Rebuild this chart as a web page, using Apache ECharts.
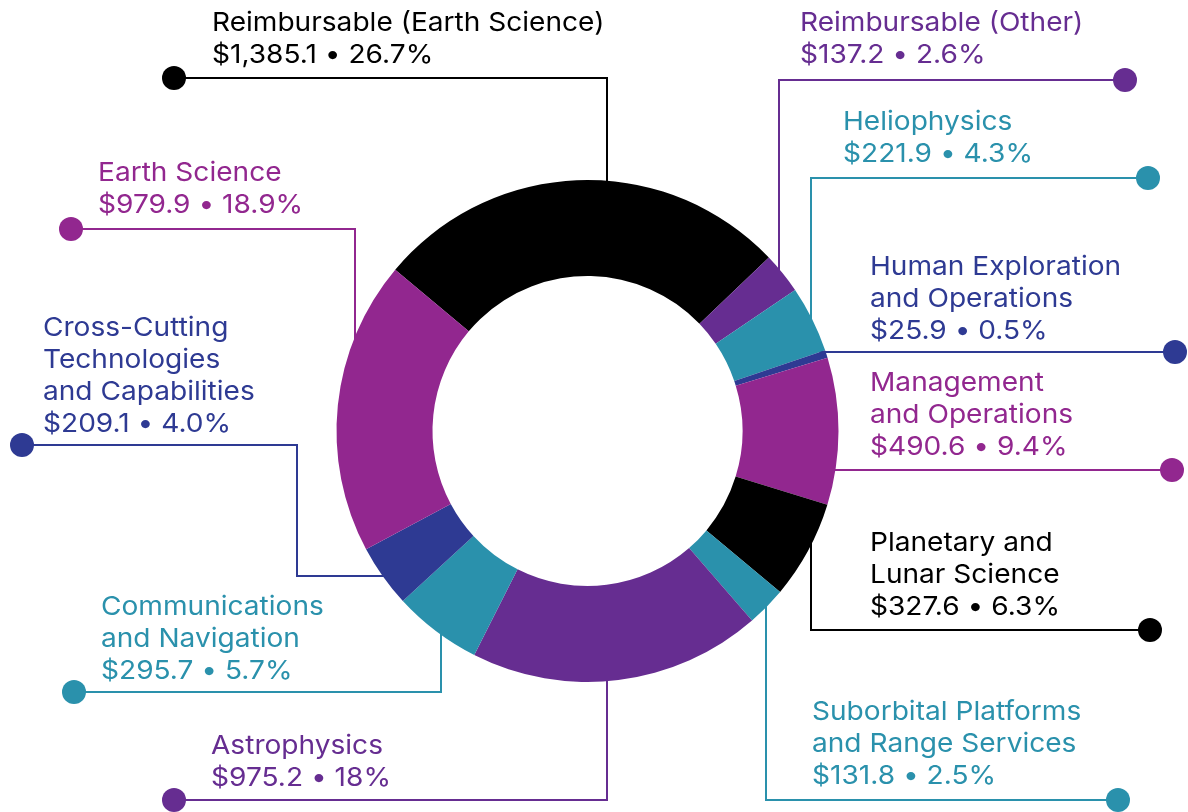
<!DOCTYPE html>
<html>
<head>
<meta charset="utf-8">
<title>Budget by account</title>
<script src="https://cdn.jsdelivr.net/npm/echarts@6/dist/echarts.min.js"></script>
<style>
  html, body { margin: 0; padding: 0; background: #ffffff; }
  #chart { width: 1188px; height: 812px; }
</style>
</head>
<body>
<div id="chart"></div>
<script>
// Accounts, clockwise from the top of the ring
const categories = [
  'Reimbursable (Earth Science)', 'Reimbursable (Other)', 'Heliophysics',
  'Human Exploration and Operations', 'Management and Operations',
  'Planetary and Lunar Science', 'Suborbital Platforms and Range Services',
  'Astrophysics', 'Communications and Navigation',
  'Cross-Cutting Technologies and Capabilities', 'Earth Science'
];
// Amounts in millions of dollars
const amounts = [1385.1, 137.2, 221.9, 25.9, 490.6, 327.6, 131.8, 975.2, 295.7, 209.1, 979.9];
// Share of total as printed on each label
const shares = ['26.7%', '2.6%', '4.3%', '0.5%', '9.4%', '6.3%', '2.5%', '18%', '5.7%', '4.0%', '18.9%'];
// How each account name is broken across lines
const nameLines = [
  ['Reimbursable (Earth Science)'], ['Reimbursable (Other)'], ['Heliophysics'],
  ['Human Exploration', 'and Operations'], ['Management', 'and Operations'],
  ['Planetary and', 'Lunar Science'], ['Suborbital Platforms', 'and Range Services'],
  ['Astrophysics'], ['Communications', 'and Navigation'],
  ['Cross-Cutting', 'Technologies', 'and Capabilities'], ['Earth Science']
];

// Slice / label colours
const palette = {
  black: '#000000', purple: '#662d91', teal: '#2a91ac', navy: '#2e3a93', magenta: '#92278f'
};
const sliceColors = ['black', 'purple', 'teal', 'navy', 'magenta', 'black', 'teal', 'purple', 'teal', 'navy', 'magenta']
  .map(k => palette[k]);

// Ring geometry
const CX = 587.5, CY = 431, R_IN = 155, R_OUT = 251;

// Callout layout: dot position, elbow points, direction of the final run into the ring, text block origin
const callouts = [
  { dot: [174, 78],   bends: [[607, 78]],              dir: 'down',  text: [212, 23] },
  { dot: [1125, 80],  bends: [[779, 80]],              dir: 'down',  text: [800, 23] },
  { dot: [1148, 178], bends: [[811, 178]],             dir: 'down',  text: [843, 122] },
  { dot: [1175, 352], bends: [],                       dir: 'left',  text: [870, 267] },
  { dot: [1172, 470], bends: [],                       dir: 'left',  text: [870, 383] },
  { dot: [1150, 630], bends: [[811, 630]],             dir: 'up',    text: [870, 543] },
  { dot: [1118, 800], bends: [[766, 800]],             dir: 'up',    text: [812, 712] },
  { dot: [174, 800],  bends: [[607, 800]],             dir: 'up',    text: [211, 746] },
  { dot: [74, 692],   bends: [[441, 692]],             dir: 'up',    text: [101, 607] },
  { dot: [22, 445],   bends: [[297, 445], [297, 576]], dir: 'right', text: [43, 328] },
  { dot: [71, 229],   bends: [[355, 229]],             dir: 'down',  text: [98, 173] }
];

const FONT = '26px Inter, "Open Sans", sans-serif';
const LINE_H = 32;
const TEXT_STRETCH = 1.08; // slightly wider lettering

function money(v) {
  return '$' + v.toLocaleString('en-US', { minimumFractionDigits: 1, maximumFractionDigits: 1 });
}

// End point of a leader: where its last run meets the ring (slightly inside the outer edge,
// the slice drawn on top hides the overlap)
function leaderEnd(p, dir) {
  const R = R_OUT - 6;
  if (dir === 'down' || dir === 'up') {
    const h = Math.sqrt(R * R - (p[0] - CX) * (p[0] - CX));
    return [p[0], dir === 'down' ? CY - h : CY + h];
  }
  const w = Math.sqrt(R * R - (p[1] - CY) * (p[1] - CY));
  return [dir === 'left' ? CX + w : CX - w, p[1]];
}

const graphics = [];
callouts.forEach((c, i) => {
  const color = sliceColors[i];
  const last = c.bends.length ? c.bends[c.bends.length - 1] : c.dot;
  const pts = [c.dot].concat(c.bends, [leaderEnd(last, c.dir)]);
  graphics.push({
    type: 'polyline', z: 0, silent: true,
    shape: { points: pts },
    style: { stroke: color, lineWidth: 2, fill: null }
  });
  graphics.push({
    type: 'circle', z: 0, silent: true,
    shape: { cx: c.dot[0], cy: c.dot[1], r: 12 },
    style: { fill: color }
  });
  const lines = nameLines[i].concat([money(amounts[i]) + ' \u2022 ' + shares[i]]);
  graphics.push({
    type: 'text', z: 0, silent: true,
    x: c.text[0], y: c.text[1] - LINE_H / 2,
    scaleX: TEXT_STRETCH,
    style: {
      text: lines.join('\n'), fill: color, font: FONT,
      lineHeight: LINE_H, textAlign: 'left', textVerticalAlign: 'top'
    }
  });
});

const chart = echarts.init(document.getElementById('chart'), null, { renderer: 'canvas' });
chart.setOption({
  animation: false,
  backgroundColor: '#ffffff',
  graphic: { elements: graphics },
  series: [{
    type: 'pie',
    z: 2,
    center: [CX, CY],
    radius: [R_IN, R_OUT],
    startAngle: 140,
    clockwise: true,
    silent: true,
    label: { show: false },
    labelLine: { show: false },
    itemStyle: { borderWidth: 0 },
    emphasis: { disabled: true },
    data: categories.map((name, i) => ({
      name, value: amounts[i], itemStyle: { color: sliceColors[i] }
    }))
  }]
});
</script>
</body>
</html>
